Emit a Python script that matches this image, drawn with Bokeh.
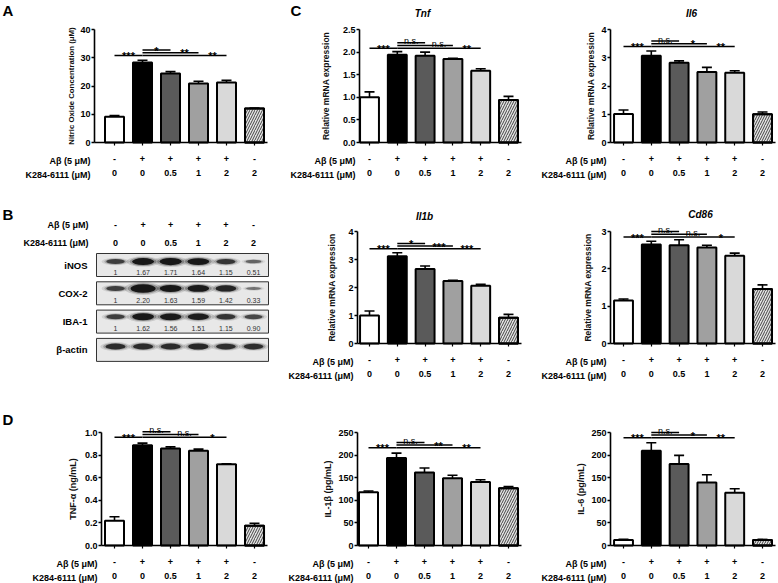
from bokeh.plotting import figure
from bokeh.models import (Range1d, LinearAxis, FixedTicker, Whisker, TeeHead,
                          ColumnDataSource, PrintfTickFormatter)
from bokeh.layouts import row, column
from bokeh.embed import file_html
from bokeh.resources import INLINE
from bokeh.core.properties import value

FONT = "Liberation Sans"

# ---------------- data ----------------
ab_labels = ["-", "+", "+", "+", "+", "-"]
k_labels = ["0", "0", "0.5", "1", "2", "2"]
bar_colors = ["#ffffff", "#000000", "#5a5a5a", "#a0a0a0", "#d9d9d9", "#e4e4e4"]

no_mean = [9.1, 28.3, 24.4, 20.9, 21.2, 12.0]
no_err = [0.4, 0.8, 0.7, 0.8, 0.8, 0.2]
no_sig = ["***", "*", "**", "**"]

tnf_mean = [1.00, 1.94, 1.92, 1.85, 1.59, 0.94]
tnf_err = [0.12, 0.07, 0.08, 0.015, 0.04, 0.08]
tnf_sig = ["***", "n.s.", "n.s.", "**"]

il6_mean = [1.01, 3.07, 2.82, 2.50, 2.47, 1.00]
il6_err = [0.14, 0.17, 0.07, 0.16, 0.07, 0.08]
il6_sig = ["***", "n.s.", "*", "**"]

il1b_mean = [1.00, 3.12, 2.66, 2.23, 2.06, 0.92]
il1b_err = [0.16, 0.12, 0.11, 0.03, 0.05, 0.12]
il1b_sig = ["***", "*", "***", "***"]

cd86_mean = [1.15, 2.65, 2.63, 2.57, 2.35, 1.46]
cd86_err = [0.04, 0.09, 0.15, 0.06, 0.07, 0.11]
cd86_sig = ["***", "n.s.", "n.s.", "*"]

tnfa_mean = [0.22, 0.89, 0.86, 0.84, 0.72, 0.175]
tnfa_err = [0.035, 0.018, 0.015, 0.015, 0.006, 0.022]
tnfa_sig = ["***", "n.s.", "n.s.", "*"]

il1bp_mean = [118, 194, 162, 149, 141, 127]
il1bp_err = [3, 11, 10, 7, 5, 4]
il1bp_sig = ["***", "n.s.", "**", "**"]

il6p_mean = [12, 210, 181, 140, 117, 12]
il6p_err = [1.5, 18, 19, 17, 9, 1.5]
il6p_sig = ["***", "n.s.", "*", "**"]

blot_proteins = ["iNOS", "COX-2", "IBA-1", "β-actin"]
inos_q = [1, 1.67, 1.71, 1.64, 1.15, 0.51]
cox2_q = [1, 2.20, 1.63, 1.59, 1.42, 0.33]
iba1_q = [1, 1.62, 1.56, 1.51, 1.15, 0.90]
actin_q = [1.30, 1.30, 1.30, 1.35, 1.25, 1.25]

sig_pairs = [(0, 1), (1, 2), (1, 3), (1, 4)]
sig_levels = [0, 2, 1, 0]
sig_label_x = [0.5, 1.5, 2.5, 3.5]

# ---------------- layout helpers ----------------
col_px = [0, 272, 525, 778]
row_px = [0, 196, 388, 583]


def make_fig(col, rw, c0, d, y0, k):
    W = col_px[col + 1] - col_px[col]
    H = row_px[rw + 1] - row_px[rw]
    ox = col_px[col]
    oy = row_px[rw]
    xr = Range1d((ox - c0) / d, (ox + W - c0) / d)
    yr = Range1d((y0 - (oy + H)) / k, (y0 - oy) / k)
    p = figure(width=W, height=H, x_range=xr, y_range=yr,
               x_axis_type=None, y_axis_type=None,
               toolbar_location=None, output_backend="svg", min_border=0,
               outline_line_color=None, background_fill_color="white",
               border_fill_color="white")
    return p


def txt(p, x, y, t, size="9px", style="bold", align="center",
        baseline="middle", color="black"):
    p.text(x=x, y=y, text=t, text_font=value(FONT), text_font_size=size,
           text_font_style=style, text_align=align, text_baseline=baseline,
           text_color=color)


def bar_panel(col, rw, means, errs, sig, c0, d, ax, y0, ytop, ymax, ticks,
              fmt, ylabel, ylabel_size, standoff, sig_px, title=None,
              title_xy=None, letter=None, xa_end=5.45):
    k = (y0 - ytop) / ymax
    p = make_fig(col, rw, c0, d, y0, k)

    def fx(X):
        return (X - c0) / d

    def fy(Y):
        return (y0 - Y) / k

    idx = list(range(len(means)))
    ax_x = fx(ax)

    # significance brackets
    step = 2.7 / k
    base = fy(sig_px)
    ys = [base + lv * step for lv in sig_levels]
    p.segment(x0=[a for a, b in sig_pairs], x1=[b for a, b in sig_pairs],
              y0=ys, y1=ys, line_color="black", line_width=1.5)
    star_x = [x for x, s in zip(sig_label_x, sig) if s != "n.s."]
    star_y = [y - 0.5 / k for y, s in zip(ys, sig) if s != "n.s."]
    star_t = [s for s in sig if s != "n.s."]
    ns_x = [x for x, s in zip(sig_label_x, sig) if s == "n.s."]
    ns_y = [y + 1.6 / k for y, s in zip(ys, sig) if s == "n.s."]
    ns_t = [s for s in sig if s == "n.s."]
    txt(p, star_x, star_y, star_t, size="11px", baseline="alphabetic")
    if ns_t:
        txt(p, ns_x, ns_y, ns_t, size="9px", style="normal",
            baseline="alphabetic")

    src = ColumnDataSource(dict(x=idx, top=means,
                                upper=[m + e for m, e in zip(means, errs)],
                                color=bar_colors))
    p.vbar(x="x", top="top", width=0.68, source=src, fill_color="color",
           line_color="black", line_width=2)
    p.vbar(x=idx[5:], top=means[5:], width=0.68, fill_alpha=0,
           line_color="black", line_width=2, hatch_pattern="/",
           hatch_color="#444444", hatch_scale=5, hatch_weight=1.0)
    wh = Whisker(source=src, base="x", upper="upper", lower="top",
                 line_color="black", line_width=1.6,
                 upper_head=TeeHead(size=10, line_width=1.6,
                                    line_color="black"),
                 lower_head=None, level="glyph")
    p.add_layout(wh)

    yax = LinearAxis(fixed_location=ax_x, bounds=(0, ymax),
                     ticker=FixedTicker(ticks=ticks),
                     formatter=PrintfTickFormatter(format=fmt),
                     axis_label=ylabel, axis_label_text_font=FONT,
                     axis_label_text_font_size=ylabel_size,
                     axis_label_text_font_style="bold",
                     axis_label_text_color="#111111",
                     axis_label_standoff=standoff,
                     major_label_text_font=FONT,
                     major_label_text_font_size="9px",
                     major_label_text_font_style="bold",
                     major_label_text_color="black",
                     major_label_standoff=1,
                     major_tick_in=0, major_tick_out=3,
                     minor_tick_in=0, minor_tick_out=0,
                     axis_line_width=1.6, major_tick_line_width=1.4)
    p.add_layout(yax, "left")

    # x axis at zero: its tick labels give the Abeta row
    xax = LinearAxis(fixed_location=0, bounds=(ax_x, xa_end),
                     ticker=FixedTicker(ticks=idx),
                     major_label_overrides={i: s for i, s in zip(idx, ab_labels)},
                     major_label_text_font=FONT,
                     major_label_text_font_size="9px",
                     major_label_text_font_style="bold",
                     major_label_text_color="black",
                     major_label_standoff=10,
                     major_tick_in=0, major_tick_out=3,
                     minor_tick_in=0, minor_tick_out=0,
                     axis_line_width=1.6, major_tick_line_width=1.2)
    p.add_layout(xax, "below")
    # second row of labels: K284-6111 dose
    xax2 = LinearAxis(fixed_location=0, ticker=FixedTicker(ticks=idx),
                      major_label_overrides={i: s for i, s in zip(idx, k_labels)},
                      major_label_text_font=FONT,
                      major_label_text_font_size="9px",
                      major_label_text_font_style="bold",
                      major_label_text_color="black",
                      major_label_standoff=27,
                      major_tick_in=0, major_tick_out=0,
                      minor_tick_in=0, minor_tick_out=0,
                      axis_line_color=None, major_tick_line_color=None)
    p.add_layout(xax2, "below")

    r1, r2 = fy(y0 + 18), fy(y0 + 32)
    txt(p, [fx(ax - 4)], [r1], ["Aβ (5 μM)"], align="right")
    txt(p, [fx(ax - 4)], [r2], ["K284-6111 (μM)"], align="right")

    if title:
        txt(p, [fx(title_xy[0])], [fy(title_xy[1])], [title], size="10px",
            style="bold italic")
    if letter:
        txt(p, [fx(letter[1])], [fy(letter[2])], [letter[0]], size="15px",
            align="left")
    return p


def blot_panel():
    col, rw = 0, 1
    c0, d = 115, 27.6
    y0, k = 264.5, -28.3
    p = make_fig(col, rw, c0, d, y0, k)

    def fx(X):
        return (X - c0) / d

    def fy(Y):
        return (y0 - Y) / k

    lanes = list(range(6))
    rows_idx = list(range(4))
    bx0, bx1 = fx(96), fx(268)
    p.rect(x=[(bx0 + bx1) / 2] * 4, y=rows_idx, width=bx1 - bx0,
           height=23 / 28.3, fill_color="#e8e8e8", line_color="#333333",
           line_width=1)
    all_q = [inos_q, cox2_q, iba1_q, actin_q]
    offs = [0.12, 0.17, 0.17, 0.12]
    for r, (vals, off) in enumerate(zip(all_q, offs)):
        for sc, af in [(1.5, 0.15), (1.22, 0.3), (1.0, 1.0)]:
            p.ellipse(x=lanes, y=[r - off] * 6,
                      width=[(13 + 5.5 * v) * sc / d for v in vals],
                      height=[(2 + 3 * v) * sc / 28.3 for v in vals],
                      fill_color="#111111",
                      fill_alpha=[min(0.95, 0.3 + 0.4 * v) * af for v in vals],
                      line_color=None)
        if r < 3:
            labs = ["1" if v == 1 else f"{v:.2f}" for v in vals]
            txt(p, lanes, [r + 0.25] * 6, labs, size="7px", style="normal",
                color="#333333")
    txt(p, [fx(87)] * 4, rows_idx, blot_proteins, size="9.5px",
        align="right")
    ya, yk = fy(224), fy(242)
    txt(p, lanes, [ya] * 6, ab_labels)
    txt(p, lanes, [yk] * 6, k_labels)
    txt(p, [fx(88)], [ya], ["Aβ (5 μM)"], align="right")
    txt(p, [fx(88)], [yk], ["K284-6111 (μM)"], align="right")
    txt(p, [fx(2)], [fy(214)], ["B"], size="15px", align="left")
    return p


pA = bar_panel(0, 0, no_mean, no_err, no_sig, 114, 28.0, 94, 142, 29, 40,
               [0, 10, 20, 30, 40], "%d", "Nitric Oxide Concentration (μM)",
               "7.8px", 1, 55, letter=("A", 2, 10))
pTnf = bar_panel(1, 0, tnf_mean, tnf_err, tnf_sig, 369, 27.8, 359, 142, 29,
                 2.5, [0, 0.5, 1.0, 1.5, 2.0, 2.5], "%.1f",
                 "Relative mRNA expression", "8.5px", 9, 47.7, title="Tnf",
                 title_xy=(422, 13), letter=("C", 290, 9.5))
pIl6 = bar_panel(2, 0, il6_mean, il6_err, il6_sig, 623, 27.8, 610, 142, 29,
                 4, [0, 1, 2, 3, 4], "%d", "Relative mRNA expression",
                 "8.5px", 2, 46, title="Il6", title_xy=(691, 13))
pB = blot_panel()
pIl1b = bar_panel(1, 1, il1b_mean, il1b_err, il1b_sig, 369, 27.8, 357, 343,
                  231, 4, [0, 1, 2, 3, 4], "%d", "Relative mRNA expression",
                  "8.5px", 8, 248.3, title="Il1b", title_xy=(424, 216))
pCd86 = bar_panel(2, 1, cd86_mean, cd86_err, cd86_sig, 623, 27.8, 610, 343,
                  231, 3, [0, 1, 2, 3], "%d", "Relative mRNA expression",
                  "8.5px", 5, 236.5, title="Cd86", title_xy=(700, 214))
pTnfa = bar_panel(0, 2, tnfa_mean, tnfa_err, tnfa_sig, 114, 28.0, 101, 545,
                  432.3, 1.0, [0, 0.2, 0.4, 0.6, 0.8, 1.0], "%.1f",
                  "TNF-α (ng/mL)", "9px", 4, 436.7, letter=("D", 2, 419))
pIl1bp = bar_panel(1, 2, il1bp_mean, il1bp_err, il1bp_sig, 368, 28.0, 357,
                   545, 432.3, 250, [0, 50, 100, 150, 200, 250], "%d",
                   "IL-1β (pg/mL)", "9px", 2, 447.3)
pIl6p = bar_panel(2, 2, il6p_mean, il6p_err, il6p_sig, 623, 27.8, 610, 545,
                  432.3, 250, [0, 50, 100, 150, 200, 250], "%d",
                  "IL-6 (pg/mL)", "9px", 2, 437.3)

layout = column(row(pA, pTnf, pIl6, spacing=0),
                row(pB, pIl1b, pCd86, spacing=0),
                row(pTnfa, pIl1bp, pIl6p, spacing=0), spacing=0)

open("out.html", "w").write(file_html(layout, INLINE))
